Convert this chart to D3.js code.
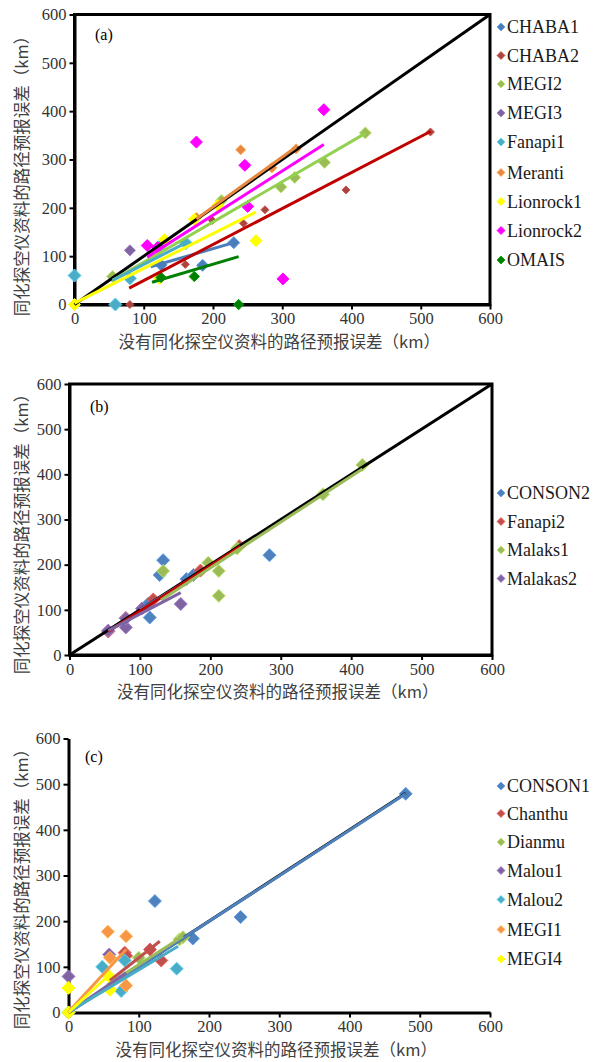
<!DOCTYPE html>
<html><head><meta charset="utf-8">
<script src="https://cdn.jsdelivr.net/npm/d3@7"></script>
<style>body{margin:0;background:#fff}svg{display:block}
.serif{font-family:'Liberation Serif','Times New Roman',serif}
.cjk{font-family:'Noto Sans CJK SC',sans-serif}</style>
</head><body>
<script>
// ---------- DATA ----------
const tickValues = [0, 100, 200, 300, 400, 500, 600];
const xTitle = "没有同化探空仪资料的路径预报误差（km）";
const yTitle = "同化探空仪资料的路径预报误差（km）";
const panelLabels = ["(a)", "(b)", "(c)"];

// panel (a)
const namesA = ["CHABA1", "CHABA2", "MEGI2", "MEGI3", "Fanapi1", "Meranti", "Lionrock1", "Lionrock2", "OMAIS"];
const colorsA = ["#4A7EBB", "#A9443F", "#9BBB59", "#8064A2", "#4BACC6", "#E8873F", "#FFFF00", "#FF00FF", "#008000"];
const pointsA = [
  [[125, 82], [185, 81], [230, 128]],
  [[80, 0], [160, 83], [199, 174], [244, 168], [275, 196], [392, 237], [514, 357]],
  [[55, 58], [212, 215], [298, 243], [318, 263], [361, 294], [420, 355]],
  [[80, 112]],
  [[0, 60], [59, 0], [80, 54], [123, 120], [161, 127]],
  [[176, 180], [240, 320], [285, 283], [320, 322]],
  [[0, 0], [123, 54], [130, 134], [173, 176], [207, 205], [262, 132]],
  [[105, 122], [120, 118], [176, 336], [246, 288], [250, 203], [301, 53], [360, 403]],
  [[125, 56], [173, 58], [237, 0]]
];
const trendsA = [
  [110, 78, 230, 128],
  [79, 34, 514, 358],
  [55, 50, 420, 354],
  null,
  [55, 50, 160, 127],
  [176, 177, 320, 326],
  [0, 3, 262, 191],
  [105, 98, 360, 331],
  [112, 46, 237, 99]
];

// panel (b)
const namesB = ["CONSON2", "Fanapi2", "Malaks1", "Malakas2"];
const colorsB = ["#4F81BD", "#C0504D", "#9BBB59", "#8064A2"];
const pointsB = [
  [[112, 114], [114, 83], [128, 177], [133, 210], [166, 168], [176, 177], [284, 221]],
  [[55, 52], [80, 82], [119, 123], [186, 187], [241, 241]],
  [[133, 186], [197, 204], [212, 186], [212, 131], [238, 236], [360, 356], [416, 421]],
  [[55, 54], [80, 61], [80, 81], [103, 103], [158, 113]]
];
const trendsB = [
  [100, 100, 180, 176],
  [55, 52, 243, 241],
  [130, 122, 416, 412],
  [55, 54, 158, 138]
];

// panel (c)
const namesC = ["CONSON1", "Chanthu", "Dianmu", "Malou1", "Malou2", "MEGI1", "MEGI4"];
const colorsC = ["#4F81BD", "#C0504D", "#9BBB59", "#8064A2", "#4BACC6", "#F79646", "#FFFF00"];
const pointsC = [
  [[123, 244], [177, 162], [245, 209], [480, 479]],
  [[80, 131], [82, 124], [116, 138], [132, 114]],
  [[100, 120], [158, 160], [163, 165]],
  [[0, 79], [58, 127]],
  [[0, 0], [48, 100], [75, 47], [80, 114], [154, 96]],
  [[56, 177], [59, 120], [82, 167], [82, 59]],
  [[0, 0], [0, 54], [58, 79], [59, 50]]
];
const trendsC = [
  [0, 0, 480, 479],
  [59, 70, 130, 156],
  [55, 60, 163, 167],
  [0, 0, 82, 87],
  [2, 3, 156, 145],
  [2, 5, 82, 138],
  [0, 0, 61, 87]
];

const diagonal = [0, 0, 600, 600];
const diagonalC = [0, 0, 480, 480];

// ---------- LAYOUT ----------
const W = 595, H = 1062;
const svg = d3.select("body").append("svg").attr("width", W).attr("height", H);

const panels = [
  { names: namesA, colors: colorsA, points: pointsA, trends: trendsA, diag: diagonal,
    x0: 74.5, x1: 490, y0: 304.5, y1: 14.5, frame: true, label: panelLabels[0], labelPos: [95, 40],
    sizes: [6, 4, 6, 5.5, 6.5, 5, 6, 6, 5.2], legendY: [27, 55.5, 84, 113, 142, 172.5, 201.5, 230.5, 260],
    xTitleY: 348, yTitleCY: 172, lineW: 3 },
  { names: namesB, colors: colorsB, points: pointsB, trends: trendsB, diag: diagonal,
    x0: 69.5, x1: 492, y0: 655, y1: 384, frame: true, label: panelLabels[1], labelPos: [90, 412],
    sizes: [6.5, 6.5, 6.5, 6.5], legendY: [493, 521.5, 550, 578.5],
    xTitleY: 698, yTitleCY: 530, lineW: 3 },
  { names: namesC, colors: colorsC, points: pointsC, trends: trendsC, diag: diagonalC,
    x0: 68.5, x1: 490, y0: 1012.5, y1: 738.5, frame: false, label: panelLabels[2], labelPos: [85, 762],
    sizes: [6.5, 6.5, 6.5, 6.5, 6.5, 6.5, 6.5], legendY: [786, 813.5, 842, 870.5, 899.5, 929.5, 959],
    xTitleY: 1056, yTitleCY: 885, lineW: 3 }
];

const diamond = r => `M0,${-r}L${r},0L0,${r}L${-r},0Z`;

panels.forEach((p, pi) => {
  const g = svg.append("g");
  const x = d3.scaleLinear().domain([0, 600]).range([p.x0, p.x1]);
  const y = d3.scaleLinear().domain([0, 600]).range([p.y0, p.y1]);

  if (p.frame) {
    g.append("rect").attr("x", p.x0).attr("y", p.y1).attr("width", p.x1 - p.x0).attr("height", p.y0 - p.y1)
      .attr("fill", "none").attr("stroke", "#000").attr("stroke-width", 3);
  }
  const xa = g.append("g").attr("transform", `translate(0,${p.y0})`)
    .call(d3.axisBottom(x).tickValues(tickValues).tickSize(5).tickPadding(3).tickSizeOuter(0).tickFormat(d3.format("d")));
  const ya = g.append("g").attr("transform", `translate(${p.x0},0)`)
    .call(d3.axisLeft(y).tickValues(tickValues).tickSize(5).tickPadding(3).tickSizeOuter(0).tickFormat(d3.format("d")));
  [xa, ya].forEach(a => {
    a.attr("font-family", null).attr("font-size", null);
    a.select(".domain").attr("stroke", "#000").attr("stroke-width", 3);
    a.selectAll(".tick line").attr("stroke", "#000").attr("stroke-width", 2);
    a.selectAll(".tick text").attr("class", "serif").style("font-size", "16.5px").attr("fill", "#333");
  });

  p.points.forEach((pts, i) => {
    const c = p.colors[i];
    g.append("g").selectAll("path").data(pts).join("path")
      .attr("d", diamond(p.sizes[i]))
      .attr("transform", d => `translate(${x(d[0])},${y(d[1])})`)
      .attr("fill", c)
      .attr("stroke", d3.color(c).brighter(0.6))
      .attr("stroke-width", 1);
  });

  g.append("line").attr("x1", x(p.diag[0])).attr("y1", y(p.diag[1])).attr("x2", x(p.diag[2])).attr("y2", y(p.diag[3]))
    .attr("stroke", "#000").attr("stroke-width", 3);

  const trendColor = c => ({ "#A9443F": "#C00000", "#9BBB59": "#92D050" }[c] || c);
  p.trends.forEach((t, i) => {
    if (!t) return;
    let col = p.colors[i];
    if (pi === 0) col = trendColor(col);
    if (pi === 1 && i === 1) col = "#C00000";
    g.append("line").attr("x1", x(t[0])).attr("y1", y(t[1])).attr("x2", x(t[2])).attr("y2", y(t[3]))
      .attr("stroke", col).attr("stroke-width", p.lineW);
  });

  g.append("text").attr("class", "serif").attr("x", p.labelPos[0]).attr("y", p.labelPos[1]).text(p.label)
    .style("font-size", "16px").attr("fill", "#000");

  p.names.forEach((n, i) => {
    const ly = p.legendY[i];
    g.append("path").attr("d", diamond(4)).attr("transform", `translate(501,${ly})`)
      .attr("fill", p.colors[i]).attr("stroke", d3.color(p.colors[i]).brighter(0.6)).attr("stroke-width", 0.8);
    g.append("text").attr("class", "serif").attr("x", 507).attr("y", ly + 6).text(n)
      .style("font-size", "18px").attr("fill", "#1a1a1a");
  });

  g.append("text").attr("class", "cjk").attr("x", (p.x0 + p.x1) / 2 - 3).attr("y", p.xTitleY).attr("text-anchor", "middle")
    .text(xTitle).style("font-size", "16.5px").attr("fill", "#404040");
  g.append("text").attr("class", "cjk").attr("transform", `translate(22,${p.yTitleCY}) rotate(-90)`).attr("text-anchor", "middle")
    .attr("dy", "0.35em").text(yTitle).style("font-size", "16.5px").attr("fill", "#404040");
});
</script>
</body></html>
